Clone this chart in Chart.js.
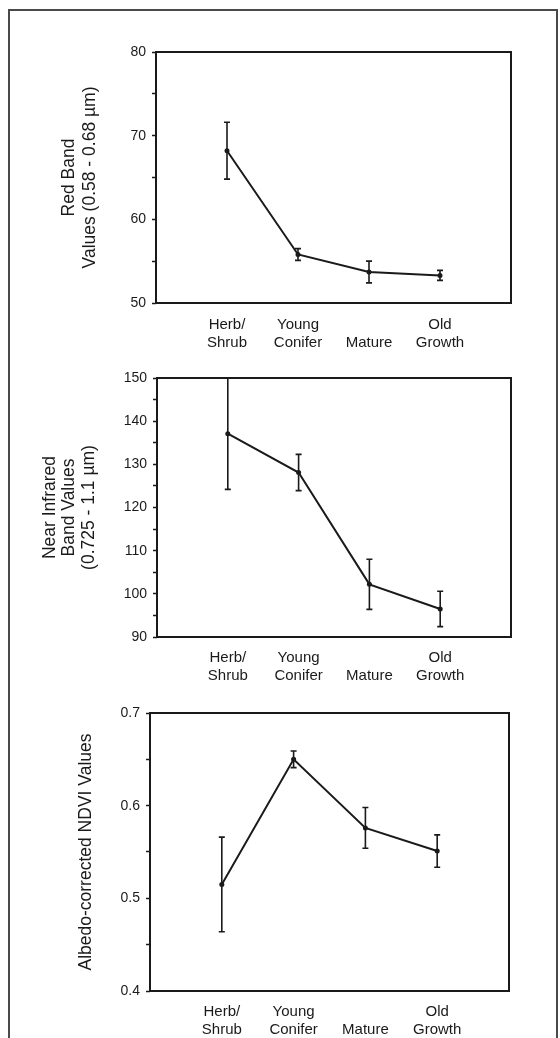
<!DOCTYPE html>
<html lang="en">
<head>
<meta charset="UTF-8">
<title>Forest stage spectral values</title>
<script src="https://cdn.jsdelivr.net/npm/chart.js"></script>
<style>
  html, body { margin: 0; padding: 0; background: #fff; }
  body { width: 560px; height: 1038px; position: relative; overflow: hidden; }
  #frame { position: absolute; left: 8px; top: 9px; width: 550px; height: 1100px;
           border: 2px solid #4a4a4a; box-sizing: border-box; }
  canvas { position: absolute; left: 0; }
</style>
</head>
<body>
<div id="frame"></div>
<canvas id="c1" width="560" height="360" style="top:0px"></canvas>
<canvas id="c2" width="560" height="360" style="top:345px"></canvas>
<canvas id="c3" width="560" height="348" style="top:690px"></canvas>

<script>
// stand categories (x positions 1..4 on a 0..5 axis)
const stages = [['Herb/', 'Shrub'], ['Young', 'Conifer'], ['', 'Mature'], ['Old', 'Growth']];

// red band means and error bars
const redValues = [68.2, 55.8, 53.7, 53.3];
const redErrors = [3.4, 0.7, 1.3, 0.6];

// near infrared means and error bars
const nirValues = [137.1, 128.1, 102.2, 96.5];
const nirErrors = [12.9, 4.2, 5.8, 4.1];

// albedo-corrected NDVI means and error bars
const ndviValues = [0.515, 0.650, 0.576, 0.551];
const ndviErrors = [0.051, 0.009, 0.022, 0.0175];

const ink = '#1a1a1a';
const FONT = "'Liberation Sans', Arial, sans-serif";

// draws the box around the plot and the vertical error bars
const boxAndErrors = {
    id: 'boxAndErrors',
    afterDatasetsDraw(chart) {
        const {ctx, chartArea: a, scales: {x, y}} = chart;
        const ds = chart.data.datasets[0];
        ctx.save();
        ctx.strokeStyle = ink;
        ctx.lineWidth = 1.6;
        ds.data.forEach((p, i) => {
            const e = ds.errors[i];
            const px = x.getPixelForValue(p.x);
            const top = y.getPixelForValue(p.y + e);
            const bot = y.getPixelForValue(p.y - e);
            ctx.beginPath();
            ctx.moveTo(px, top); ctx.lineTo(px, bot);
            ctx.moveTo(px - 3, top); ctx.lineTo(px + 3, top);
            ctx.moveTo(px - 3, bot); ctx.lineTo(px + 3, bot);
            ctx.stroke();
        });
        ctx.lineWidth = 2;
        ctx.strokeRect(a.left, a.top, a.right - a.left, a.bottom - a.top);
        ctx.restore();
    }
};

function makeChart(id, values, errors, yOpts, box) {
    const canvas = document.getElementById(id);
    const points = values.map((v, i) => ({x: i + 1, y: v}));
    return new Chart(canvas, {
        type: 'line',
        data: {
            datasets: [{
                data: points,
                errors: errors,
                borderColor: ink,
                borderWidth: 2,
                backgroundColor: ink,
                pointRadius: 2.5,
                pointBorderWidth: 0,
                tension: 0
            }]
        },
        options: {
            responsive: false,
            animation: false,
            devicePixelRatio: 1,
            layout: { padding: { top: box.top, right: 560 - box.right, left: 0, bottom: 0 } },
            plugins: { legend: { display: false }, tooltip: { enabled: false } },
            scales: {
                x: {
                    type: 'linear',
                    min: 0, max: 5,
                    border: { display: false },
                    grid: { display: false, drawTicks: false },
                    ticks: {
                        stepSize: 1,
                        autoSkip: false,
                        maxRotation: 0,
                        padding: box.xPad,
                        color: ink,
                        font: { family: FONT, size: 15, lineHeight: 1.2 },
                        callback: v => (v >= 1 && v <= 4) ? stages[v - 1] : ''
                    },
                    afterFit: s => { s.height = canvas.height - box.bottom; }
                },
                y: {
                    min: yOpts.min, max: yOpts.max,
                    border: { display: false },
                    grid: { drawOnChartArea: false, tickLength: 4, tickColor: ink, tickWidth: 1.5 },
                    ticks: {
                        stepSize: yOpts.step,
                        color: ink,
                        padding: 6,
                        font: { family: FONT, size: 14 },
                        callback: v => {
                            const k = Math.round(v / yOpts.major * 1000) / 1000;
                            return Number.isInteger(k) ? (yOpts.digits ? v.toFixed(yOpts.digits) : String(v)) : '';
                        }
                    },
                    title: {
                        display: true,
                        text: yOpts.title,
                        color: ink,
                        font: { family: FONT, size: 17.5, lineHeight: yOpts.titleLH },
                        padding: { top: yOpts.titlePad, bottom: 0 }
                    },
                    afterFit: s => { s.width = box.left; }
                }
            }
        },
        plugins: [boxAndErrors]
    });
}

makeChart('c1', redValues, redErrors,
    { min: 50, max: 80, step: 5, major: 10, digits: 0,
      title: ['Red Band', 'Values (0.58 - 0.68 \u00b5m)'], titleLH: '21px', titlePad: 59 },
    { left: 156, right: 511, top: 52, bottom: 303, xPad: 13 });

makeChart('c2', nirValues, nirErrors,
    { min: 90, max: 150, step: 5, major: 10, digits: 0,
      title: ['Near Infrared', 'Band Values', '(0.725 - 1.1 \u00b5m)'], titleLH: '19.5px', titlePad: 40 },
    { left: 157, right: 511, top: 33, bottom: 292, xPad: 12 });

makeChart('c3', ndviValues, ndviErrors,
    { min: 0.4, max: 0.7, step: 0.05, major: 0.1, digits: 1,
      title: 'Albedo-corrected NDVI Values', titleLH: '21px', titlePad: 76 },
    { left: 150, right: 509, top: 23, bottom: 301, xPad: 12 });
</script>
</body>
</html>
